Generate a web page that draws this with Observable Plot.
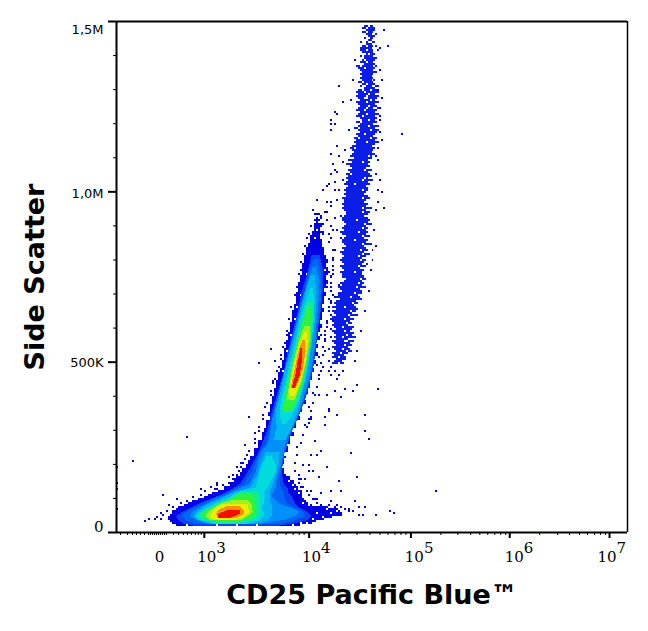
<!DOCTYPE html>
<html><head><meta charset="utf-8">
<style>html,body{margin:0;padding:0;background:#fff}svg{display:block}</style>
<script src="https://cdn.jsdelivr.net/npm/d3@7"></script>
<script src="https://cdn.jsdelivr.net/npm/@observablehq/plot@0.6"></script>
</head><body><div id="chart"></div>
<script>
// Grid of the density plot: 256 x-channels and 256 y-channels
const xTitle = "CD25 Pacific Blue™";
const yTitle = "Side Scatter";
const yMajor = [0, 85, 170, 255];
const yMinor = [17,34,51,68,102,119,136,153,187,204,221,238];
const yLabels = [["1,5M",255,8],["1,0M",170,2],["500K",85,1]];
const xDecades = [[44,"3",12],[96.5,"4",12],[147.5,"5",13],[197,"6",14],[247,"7",7]];
const xMajor = [44,96.5,147.5,197,247];
const xMinor = [2,5.5,8,10,12,14,16,17,18,19,20,21,22,23,24,25,28.5,31,33.5,35.5,37.5,39.5,41,42.5,
 60,69,75.5,80.5,85,88.5,91.5,94,112,120.5,127,132,136,139.5,142.5,145,162.5,171,177.5,182,186,189.5,192.5,195,
 212,221,227,232,236,239.5,242.5,245];

// Outer blue envelope of the stem and lower lobe: [row, low, high]
const outerRows = [[3,30,92],[4,28,98],[5,27,100],[6,26,104],[7,27,109],[8,28,113],[9,28,112],[10,30,111],[11,31,106],[12,34,98],[13,36,96],[14,38,94],[15,41,94],[16,44,93],[17,46,93],[18,49,92],[19,51,93],[20,54,91],[21,54,91],[22,57,90],[23,57,89],[24,59,89],[26,60,87],[28,62,85],[30,63,84],[32,65,83],[34,66,84],[36,67,85],[38,69,84],[40,69,86],[42,71,86],[44,71,87],[46,73,87],[48,73,89],[50,74,88],[52,75,90],[54,75,90],[56,77,92],[58,76,91],[60,77,93],[62,77,93],[64,78,95],[66,78,94],[68,79,96],[70,79,95],[72,80,97],[74,80,96],[76,81,98],[78,81,97],[80,82,99],[82,83,98],[84,83,100],[86,84,99],[88,84,101],[90,84,100],[92,85,101],[94,85,100],[96,86,102],[98,86,101],[100,87,102],[102,87,103],[104,88,102],[106,88,103],[108,88,103],[110,89,104],[112,89,103],[114,90,104],[116,90,104],[118,90,105],[120,91,104],[122,91,105],[124,92,106],[126,92,105],[128,93,106],[130,93,106],[132,93,105],[134,94,106],[136,94,105],[138,95,104],[140,95,104],[142,96,103],[144,97,103],[146,97,102],[148,98,104],[150,99,102],[152,99,104],[154,100,102]];

// Cells beside the envelope, [x channel, row]
const edgeCells = [[96,148],[95,146],[94,142],[93,138],[92,134],[92,130],[91,128],[91,124],[90,122],[89,118],[90,116],[87,112],[88,110],[86,106],[87,104],[85,100],[85,98],[84,94],[83,92],[82,88],[82,86],[81,82],[80,80],[79,76],[78,74],[77,70],[77,68],[75,64],[74,62],[73,58],[73,56],[71,52],[71,50],[69,46],[69,44],[66,40],[65,38],[62,34],[62,32],[60,28],[59,26],[108,150],[106,148],[107,146],[106,144],[108,140],[108,136],[108,132],[108,128],[107,124],[107,120],[106,116],[107,114],[106,110],[107,108],[105,104],[104,100],[104,96],[103,92],[103,88],[102,84],[102,80],[101,76],[100,72],[99,68],[98,64],[97,60],[96,56],[95,52],[93,48],[92,44],[90,42],[90,38],[89,34],[89,30],[91,28],[92,26],[91,24],[93,22],[95,20],[96,18],[98,16],[100,14],[102,13],[109,12],[112,12],[114,11],[116,10],[110,13],[106,13],[100,156],[102,156],[105,155],[103,153],[99,158],[101,158],[98,160],[97,152],[99,155],[104,159],[107,152],[44,17],[48,19],[50,21],[53,23],[56,24],[58,26],[58,28],[61,30],[60,32],[63,34],[64,36],[47,22],[42,18],[44,20],[35,15],[32,14],[28,12],[25,10],[23,8],[22,6],[20,7],[22,9],[26,13],[38,17],[30,16],[42,21],[50,24]];
// Empty cells inside the envelope, [x channel, row]
const holeCells = [[105,11],[107,9],[110,10],[103,7],[108,7],[100,9],[96,13],[93,14],[95,15],[91,19],[89,21],[88,23],[86,25],[84,29],[83,33],[84,36],[83,41],[85,43],[98,6],[95,4],[92,4],[88,3],[70,3],[50,3],[35,3],[60,3],[100,150],[102,148],[99,146],[103,152],[101,154],[103,144],[95,128],[104,130],[92,118],[90,112],[89,106],[87,98],[85,90],[83,80],[100,90],[97,72],[95,68],[93,62],[90,52],[88,46],[104,120],[103,108],[103,104],[101,98]];

// Nested density levels, stem and lower lobe: [row, low, high]
const levelColors = ["#0a46f0","#0066f8","#0090fa","#00b8f0","#00dcdc","#10ec90","#30f040","#a0f020","#e8f000","#ff9000","#f01000"];
const stemA = [[138,98,102],[130,96,104],[120,93,103.5],[110,91,102.5],[100,88.5,101],[90,86,100],[80,84,98.5],[70,81,96],[60,78,92.5],[50,75.5,88],[40,71.5,84.5],[30,66,83],[24,62,84],[22,59,86],[20,55,86],[18,51,88],[16,46,89],[14,41,90],[12,37,92],[10,33,96],[8,30,98],[6,31,96],[4,34,88],[3,40,80]];
const stemAB = [[136,99,101.5],[130,96.5,102.5],[120,94.5,103],[110,92,102],[100,89.5,101],[90,87,99.5],[80,84.5,98],[70,82,95],[60,79,92],[50,76.5,88],[44,75,86],[40,72,84.5],[30,68,82.5],[24,64,82],[22,60,83],[20,56,84],[18,52,84],[16,47,85],[14,43,86],[12,39,90],[10,35,94],[8,33,95],[6,35,90],[4,40,82]];
const stemB = [[132,98.5,100.5],[125,96,102],[115,93,101.5],[105,90.5,100.5],[95,88,100],[85,85.5,98.5],[75,83,96.5],[65,80.5,93.5],[55,78,90],[48,77,86],[44,76,85],[40,73,84],[35,71,83],[30,70,81.5],[24,67,80],[22,62,80],[20,58,79],[18,54,78],[16,49,80],[14,45,82],[12,41,88],[10,38,92],[8,37,90],[6,40,84],[4,46,72]];
const stemBC = [[128,97.5,99.5],[120,95,100.5],[110,92.5,100],[100,90,99],[90,87.5,97.5],[80,84.5,96],[70,82.5,93.5],[60,80,91],[52,80.5,88],[46,79,85]];
const neckBC = [[40,75,82],[34,72.5,81.5],[28,70.5,80],[22,67,78],[20,59,77],[18,55,77],[16,51,77],[14,46,78],[12,43,78],[10,40,78],[8,39,78],[6,41,76],[4,48,68]];
const stemC = [[122,97.5,98.5],[115,95,99.5],[105,92,99],[95,90,98],[85,87.5,96.5],[75,85,94.5],[65,82.5,91.5],[58,82,88],[54,83,85]];
const neckC = [[38,75.5,78],[34,73.5,80],[30,72,80],[26,71,78],[22,70,76],[20,61,74],[18,58,75],[16,54,74],[14,49,74],[12,45,73],[10,42,74],[8,40,74],[6,42,72],[4,50,64]];
const stemCD = [[115,96,98.5],[105,93,98.5],[95,90.5,97.7],[85,88,96],[75,85.7,94],[65,83.5,91],[60,83,88.5]];
const lobeCD = [[20,62,71],[18,58,72],[16,54,72],[14,50,72],[12,46,72],[10,43,72],[8,41,71],[6,44,69],[4,52,60]];
const stemD = [[113,96,97],[105,93.5,98],[95,91,97.5],[85,88.5,95.5],[75,86.5,93.5],[65,84.5,90],[60,84,87]];
const lobeD = [[19,62,68],[17,59,69],[15,55,70],[13,50,70],[11,46,70],[9,43,70],[7,44,68],[5,52,60]];
const stemDE = [[103,94.5,97],[95,91.5,97],[85,89,95.3],[75,87,93],[66,85.5,89.5]];
const lobeDE = [[16,58,66],[14,52,68],[12,49,68],[10,46,68.5],[8,45,66],[6,47,63]];
const stemE = [[100,94.5,95.5],[95,92.2,96],[85,89.5,95],[75,87.3,92.5],[68,86.5,89.5]];
const lobeE = [[14,53,66],[12,50,66],[10,48,67],[8,47,65],[6,49,60]];
const stemF = [[96,93.5,94.5],[90,91.3,95],[80,89.3,93.3],[72,87.5,90]];
const lobeF = [[13,56,62],[11,51,64],[9,50,64],[7,51,60]];
const stemG = [[92,92.5,93],[85,91,93],[78,89.8,92],[72,88,89.5]];
const lobeG = [[11,56,62],[9,51,62],[7,51,57]];

// Upper population: [row, low, high, low, high, ...]
const upperRows = [[252,124,125,127,128],[251,123,124,126,129],[250,125,129],[249,123,124,126,128],[248,125,127,130,130],[247,126,129],[246,124,124,127,128],[245,126,127],[244,122,122,125,125,128,129],[243,125,127],[242,123,124,126,128,130,130],[241,122,127],[240,122,124,126,128,131,131],[239,123,128],[238,125,125,127,129],[237,122,122,124,128],[236,124,130],[235,123,123,125,129],[234,122,124,126,128],[233,124,129],[232,120,121,123,128,130,130],[231,121,123,125,129],[230,122,128],[229,123,130],[228,122,128],[227,123,127],[226,122,128],[225,123,127,129,129],[224,121,122,124,128],[223,123,124,126,129],[222,122,122,125,127,130,131],[221,124,129],[220,121,122,124,126,128,131],[219,120,123,125,131],[218,121,125,127,129],[217,120,124,126,131],[216,121,123,126,130],[215,122,126,128,129],[214,120,124,126,131],[213,121,129],[212,122,125,127,130],[211,121,124,126,128,131,131],[210,120,123,125,130],[209,122,129],[208,121,124,126,131],[207,120,122,124,129],[206,122,130],[205,123,125,127,129],[204,120,121,123,130],[203,122,128],[202,121,125,127,131],[201,119,120,122,129],[200,121,126,128,131],[199,122,130],[198,120,123,125,129],[197,121,128],[196,119,120,122,126,128,130],[195,120,129],[194,119,124,126,131],[193,120,129],[192,118,127],[191,117,118,120,129],[190,118,128],[189,119,127],[188,118,129],[187,117,125,127,127],[186,119,127],[185,116,125],[184,118,122,124,126],[183,115,125],[182,117,126],[181,118,124],[180,116,123,125,127],[179,117,125],[178,115,116,118,126],[177,116,127],[176,115,123,125,125],[175,116,122,124,128],[174,115,125],[173,114,118,120,126],[172,116,124],[171,115,125],[170,114,122,124,125],[169,115,124],[168,114,123],[167,115,125],[166,113,122,124,126],[165,114,124],[164,114,123],[163,113,125],[162,114,124],[161,113,122,124,127],[160,114,124],[159,115,122,124,126],[158,115,125],[157,114,123],[156,113,125],[155,113,119,121,126],[154,114,125],[153,115,123,125,127],[152,114,124],[151,113,122,124,125],[150,114,124],[149,112,120,122,125],[148,113,124],[147,115,122,124,126],[146,114,123],[145,113,118,120,125],[144,113,124],[143,114,122,124,127],[142,115,123],[141,113,124],[140,114,121,123,125],[139,112,123],[138,113,122,124,126],[137,114,120,122,124],[136,113,122],[135,112,121,123,124],[134,113,123],[133,114,122,125,125],[132,112,120,122,124],[131,113,121],[130,114,123],[129,112,118,120,122],[128,113,122],[127,113,123],[126,115,121,123,124],[125,114,122],[124,112,120,122,123],[123,113,122],[122,111,119,121,124],[121,112,121],[120,113,122],[119,111,118,120,122],[118,111,120],[117,110,116,118,121],[116,112,122],[115,110,119],[114,109,117,119,120],[113,110,118],[112,108,113,115,119],[111,110,120],[110,108,116,118,119],[109,109,117],[108,110,115,117,120],[107,108,116],[106,107,113,115,118],[105,108,116],[104,109,114,116,117],[103,108,115],[102,109,112,114,118],[101,110,117],[100,108,113,115,116],[99,109,118],[98,110,114,116,117],[97,109,112,114,119],[96,110,115],[95,108,113,116,118],[94,109,116],[93,110,113,115,117],[92,108,115],[91,109,112,114,116],[90,110,114,116,117],[89,108,111,113,115],[88,109,113],[87,108,110,112,114],[86,110,114],[85,109,112],[84,108,110,112,113]];

// Isolated cells: [x channel, row]
const sparseCells = [[8,35],[35,47],[23,18],[66,57],[69,49],[64,43],[56,27],[50,23],[49,21],[106,60],[110,58],[124,58],[124,50],[126,46],[117,39],[120,27],[111,25],[112,20],[107,20],[119,15],[137,10],[139,9],[130,8],[124,12],[121,12],[121,8],[123,8],[104,57],[104,53],[97,57],[96,54],[94,53],[99,45],[97,38],[100,38],[102,40],[105,32],[93,33],[96,30],[98,30],[96,33],[94,26],[91,26],[101,27],[92,22],[90,17],[94,15],[99,16],[100,16],[97,20],[102,19],[107,15],[116,11],[118,10],[14,5],[16,6],[19,6],[22,6],[0,24],[0,21],[0,11],[0,32],[143,198],[160,20],[131,71],[109,209],[107,203],[107,115],[109,117],[108,105],[105,102],[107,101],[104,98],[107,97],[102,98],[106,91],[103,92],[106,80],[107,78],[101,87],[100,83],[101,78],[103,82],[109,70],[112,67],[106,61],[120,73],[118,70],[114,71],[100,72],[98,69],[101,68],[105,68],[96,62],[97,56],[77,91],[71,84],[79,85],[66,57],[77,70],[78,75],[130,142],[128,135],[112,146],[108,135],[111,123],[108,118],[104,135],[106,129],[107,127],[105,122],[111,222],[113,214],[110,208],[107,205],[109,203],[107,200],[110,192],[107,188],[111,187],[108,183],[113,184],[109,180],[107,178],[110,179],[109,174],[106,173],[105,172],[103,170],[109,170],[100,165],[105,164],[107,164],[107,162],[105,159],[100,158],[102,157],[112,157],[109,156],[134,250],[136,242],[132,241],[133,216],[132,211],[132,207],[132,199],[131,191],[130,187],[130,178],[132,175],[133,169],[131,164],[134,161],[132,230],[133,225],[131,220],[132,205],[133,195],[131,185],[131,170],[130,160],[129,150],[128,140],[127,130],[126,120],[124,110],[122,100],[120,90],[119,85],[119,235],[118,225],[117,215],[116,200],[114,190],[113,175],[111,170],[110,165],[110,150],[109,140],[108,130],[107,122],[106,112],[105,105],[104,95],[104,90],[106,85],[107,82],[109,80],[111,78],[113,80],[110,76]];

const toCell = ([x, r]) => ({x1: x, x2: x + 1, y1: r, y2: r + 1});
const spanRects = upperRows.flatMap(([r, ...s]) => s.filter((_, i) => i % 2 === 0).map((lo, i) => ({x1: lo, x2: s[2*i+1] + 1, y1: r, y2: r + 1})));
const outerRects = outerRows.map(([r, lo, hi]) => ({x1: lo, x2: hi, y1: r, y2: r + 2}));
const crisp = {shapeRendering: "crispEdges"};
const rect = (d, fill) => Plot.rect(d, {x1: "x1", x2: "x2", y1: "y1", y2: "y2", fill, inset: 0, ...crisp});
const level = (d, fill) => Plot.areaX(d, {x1: v => v[1], x2: v => v[2], y: v => v[0], fill, ...crisp});
const blue = "#0000e6";
const levelStack = [[stemA],[stemAB],[stemB],[stemBC,neckBC],[stemC,neckC],[stemCD,lobeCD],[stemD,lobeD],[stemDE,lobeDE],[stemE,lobeE],[stemF,lobeF],[stemG,lobeG]];

const tickText = {fill: "black", stroke: "none"};
const serif = {fontSize: 15, fontFamily: "DejaVu Serif", ...tickText};
const marks = [
  rect(outerRects, blue), rect(edgeCells.map(toCell), "#0000dc"), rect(holeCells.map(toCell), "white"),
  rect(spanRects, "#0a1ee8"), rect(sparseCells.map(toCell), "#0000d8"),
  ...levelStack.flatMap((parts, i) => parts.map(p => level(p, levelColors[i]))),
  rect(holeCells.filter(([, r]) => r > 140 || r < 26).map(toCell), "white"),
  Plot.ruleX([0], {strokeWidth: 2, stroke: "black"}), Plot.ruleX([256], {strokeWidth: 1.5, stroke: "black"}),
  Plot.ruleY([0], {strokeWidth: 2, stroke: "black"}), Plot.ruleY([255], {strokeWidth: 2, stroke: "black"}),
  Plot.axisY(yMajor, {tickSize: 8, strokeWidth: 2, tickFormat: () => "", label: null}),
  Plot.axisY(yMinor, {tickSize: 3, tickFormat: () => "", label: null}),
  Plot.axisX(xMajor, {tickSize: 6, strokeWidth: 2, tickFormat: () => "", label: null}),
  Plot.axisX(xMinor, {tickSize: 3, tickFormat: () => "", label: null}),
  ...yLabels.map(([t, y, dy]) => Plot.text([t], {x: () => 0, y: () => y, dx: -13, dy, textAnchor: "end", fontSize: 13, fontFamily: "DejaVu Sans", ...tickText})),
  Plot.text(["0"], {x: () => 0, y: () => 0, dx: -13, dy: -5, textAnchor: "end", ...serif}),
  Plot.text(["0"], {x: () => 21.5, frameAnchor: "bottom", dy: 29, ...serif}),
  ...xDecades.flatMap(([x, e, off]) => [
    Plot.text(["10"], {x: () => x, frameAnchor: "bottom", dx: off, dy: 29, textAnchor: "end", ...serif}),
    Plot.text([e], {x: () => x, frameAnchor: "bottom", dx: off, dy: 20, textAnchor: "start", ...serif})
  ]),
  Plot.text([xTitle], {frameAnchor: "bottom", dy: 71, fontSize: 27, fontWeight: "bold", fontFamily: "DejaVu Sans", ...tickText}),
  Plot.text([yTitle], {frameAnchor: "left", dx: -81, rotate: -90, textAnchor: "middle", fontSize: 27, fontWeight: "bold", fontFamily: "DejaVu Sans", ...tickText})
];
const chart = Plot.plot({
  width: 648, height: 631, marginLeft: 116, marginRight: 21, marginTop: 21, marginBottom: 99,
  style: {background: "white", overflow: "visible"},
  x: {domain: [0, 256], axis: null}, y: {domain: [0, 255], axis: null},
  marks
});
document.getElementById("chart").appendChild(chart);
</script></body></html>
